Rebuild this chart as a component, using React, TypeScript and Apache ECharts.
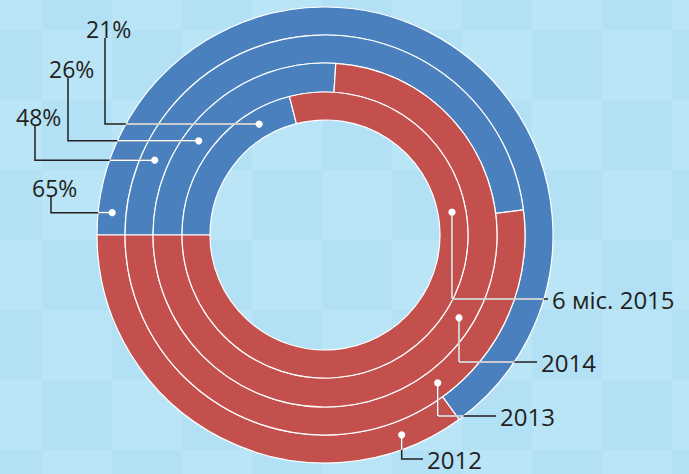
import React, { useEffect, useRef } from "react";
import * as echarts from "echarts";

// ---- data ----
const categories = ["2012", "2013", "2014", "6 міс. 2015"];
const blueShare = [65, 48, 26, 21];
const redShare = [35, 52, 74, 79];
const pctLabels = ["65%", "48%", "26%", "21%"];

// ---- layout ----
const W = 689;
const H = 474;
const CX = 325;
const CY = 235;
const RINGS: [number, number][] = [
  [200, 228],
  [172, 200],
  [143, 172],
  [115, 143],
];
const ROUT = 228;
const BLUE = "#4a80be";
const RED = "#c4504d";
const DARK = "#231f20";
const FONT = "Open Sans";

// left (percentage) annotations: dot angle (deg), elbow x, text middle y
const leftAnno = [
  { ang: 174, ex: 51, ty: 188 },
  { ang: 156.3, ex: 35, ty: 117 },
  { ang: 143.3, ex: 68, ty: 69 },
  { ang: 120.7, ex: 105, ty: 29 },
];
// right (year) annotations: dot angle (deg), elbow y, text left x
const rightAnno = [
  { ang: -69, ey: 459, tx: 427 },
  { ang: -52.7, ey: 416, tx: 500 },
  { ang: -31.7, ey: 362, tx: 541 },
  { ang: 10.2, ey: 299, tx: 552 },
];

function dotPos(i: number, ang: number): [number, number] {
  const r = (RINGS[i][0] + RINGS[i][1]) / 2;
  const a = (ang * Math.PI) / 180;
  return [CX + r * Math.cos(a), CY - r * Math.sin(a)];
}

function whiteH(y: number, x1: number, x2: number) {
  const dy = y - CY;
  if (Math.abs(dy) >= ROUT) return null;
  const w = Math.sqrt(ROUT * ROUT - dy * dy);
  const lo = Math.max(Math.min(x1, x2), CX - w);
  const hi = Math.min(Math.max(x1, x2), CX + w);
  if (hi <= lo) return null;
  return { x1: lo, y1: y, x2: hi, y2: y };
}
function whiteV(x: number, y1: number, y2: number) {
  const dx = x - CX;
  if (Math.abs(dx) >= ROUT) return null;
  const h = Math.sqrt(ROUT * ROUT - dx * dx);
  const lo = Math.max(Math.min(y1, y2), CY - h);
  const hi = Math.min(Math.max(y1, y2), CY + h);
  if (hi <= lo) return null;
  return { x1: x, y1: lo, x2: x, y2: hi };
}

export default function App() {
  const ref = useRef<HTMLDivElement>(null);
  useEffect(() => {
    if (!ref.current) return;
    const chart = echarts.init(ref.current, undefined, { renderer: "svg" });

    const graphics: any[] = [];
    // subtle checkerboard background
    const S = 70;
    for (let gx = -28, ci = 0; gx < W; gx += S, ci++) {
      for (let gy = -40, ri = 0; gy < H; gy += S, ri++) {
        if ((ci + ri) % 2 === 0) {
          graphics.push({
            type: "rect",
            z: -10,
            silent: true,
            shape: { x: gx, y: gy, width: S, height: S },
            style: { fill: "#bae5f6" },
          });
        }
      }
    }

    const lw = 1.5;
    leftAnno.forEach((a, i) => {
      const [dx, dy] = dotPos(i, a.ang);
      graphics.push({
        type: "polyline",
        z: 10,
        silent: true,
        shape: { points: [[dx, dy], [a.ex, dy], [a.ex, a.ty + 9]] },
        style: { stroke: DARK, lineWidth: lw, fill: null },
      });
      const seg = whiteH(dy, dx, a.ex);
      if (seg) graphics.push({ type: "line", z: 11, silent: true, shape: seg, style: { stroke: "#fff", lineWidth: lw } });
      graphics.push({ type: "circle", z: 12, silent: true, shape: { cx: dx, cy: dy, r: 3.6 }, style: { fill: "#fff" } });
      graphics.push({
        type: "text",
        z: 12,
        silent: true,
        x: a.ex - 19,
        y: a.ty,
        style: { text: pctLabels[i], fill: DARK, font: `23px "${FONT}"`, textAlign: "left", textVerticalAlign: "middle" },
      });
    });

    rightAnno.forEach((a, i) => {
      const [dx, dy] = dotPos(i, a.ang);
      const endX = a.tx - 4;
      graphics.push({
        type: "polyline",
        z: 10,
        silent: true,
        shape: { points: [[dx, dy], [dx, a.ey], [endX, a.ey]] },
        style: { stroke: DARK, lineWidth: lw, fill: null },
      });
      const v = whiteV(dx, dy, a.ey);
      if (v) graphics.push({ type: "line", z: 11, silent: true, shape: v, style: { stroke: "#fff", lineWidth: lw } });
      const h = whiteH(a.ey, dx, endX);
      if (h) graphics.push({ type: "line", z: 11, silent: true, shape: h, style: { stroke: "#fff", lineWidth: lw } });
      graphics.push({ type: "circle", z: 12, silent: true, shape: { cx: dx, cy: dy, r: 3.6 }, style: { fill: "#fff" } });
      graphics.push({
        type: "text",
        z: 12,
        silent: true,
        x: a.tx,
        y: a.ey,
        style: { text: categories[i], fill: DARK, font: `24px "${FONT}"`, textAlign: "left", textVerticalAlign: "middle" },
      });
    });

    const series = categories.map((name, i) => ({
      type: "pie",
      name,
      center: [CX, CY],
      radius: RINGS[i],
      startAngle: 180,
      clockwise: true,
      silent: true,
      label: { show: false },
      labelLine: { show: false },
      emphasis: { disabled: true },
      itemStyle: { borderColor: "#ffffff", borderWidth: 1.2 },
      data: [
        { name: "blue", value: blueShare[i], itemStyle: { color: BLUE } },
        { name: "red", value: redShare[i], itemStyle: { color: RED } },
      ],
    }));

    chart.setOption({
      animation: false,
      backgroundColor: "#b2e1f5",
      tooltip: { show: false },
      graphic: graphics,
      series,
    });
    return () => chart.dispose();
  }, []);
  return (
    <div style={{ position: "fixed", left: 0, top: 0, width: W, height: H }}>
      <div ref={ref} style={{ width: W, height: H }} />
    </div>
  );
}
